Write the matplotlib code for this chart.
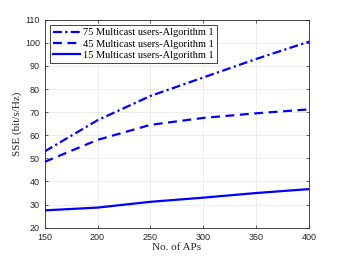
import matplotlib
matplotlib.use("Agg")
import matplotlib.pyplot as plt

aps = [150, 200, 250, 300, 350, 400]
sse_75 = [53, 66.5, 77, 85, 93, 100.5]
sse_45 = [48.5, 58, 64.5, 67.5, 69.5, 71.2]
sse_15 = [27.5, 28.7, 31.2, 33, 35, 36.7]
labels = ["75 Multicast users-Algorithm 1",
          "45 Multicast users-Algorithm 1",
          "15 Multicast users-Algorithm 1"]
xticks = [150, 200, 250, 300, 350, 400]
yticks = list(range(20, 111, 10))

fig = plt.figure(figsize=(3.41, 2.56), dpi=100)
ax = fig.add_axes([44.7/341, 1 - 227.7/256, (309 - 44.7)/341, (227.7 - 19.7)/256])

ax.plot(aps, sse_75, color=(0, 0, 1), lw=1.6, ls=(0, (4, 1.5, 1, 1.5)), label=labels[0])
ax.plot(aps, sse_45, color=(0, 0, 1), lw=1.6, ls=(0, (4, 2.5)), label=labels[1])
ax.plot(aps, sse_15, color=(0, 0, 1), lw=1.6, ls='-', label=labels[2])

ax.set_xlim(150, 400)
ax.set_ylim(20, 110)
ax.set_xticks(xticks)
ax.set_yticks(yticks)
ax.tick_params(labelsize=6.5, direction='in', length=2.5, width=0.5, colors='#262626',
               top=True, right=True)
for lab in ax.get_xticklabels() + ax.get_yticklabels():
    lab.set_family('Liberation Sans')
ax.grid(True, color='#e6e6e6', lw=0.5)
ax.set_axisbelow(True)
for s in ax.spines.values():
    s.set_linewidth(0.6)
    s.set_color('#262626')

ax.set_xlabel("No. of APs", fontfamily='Liberation Serif', fontsize=8, color='#262626', labelpad=1)
ax.set_ylabel("SSE (bit/s/Hz)", fontfamily='Liberation Serif', fontsize=8, color='#262626', labelpad=2)

leg = ax.legend(loc='upper left', prop={'family': 'Liberation Serif', 'size': 7.5},
                handlelength=2.6, handletextpad=0.3, borderpad=0.3, labelspacing=0.2,
                fancybox=False, framealpha=1, edgecolor='#262626',
                bbox_to_anchor=(0.02, 0.975), borderaxespad=0)
leg.get_frame().set_linewidth(0.6)

fig.savefig("out.png", dpi=100)
